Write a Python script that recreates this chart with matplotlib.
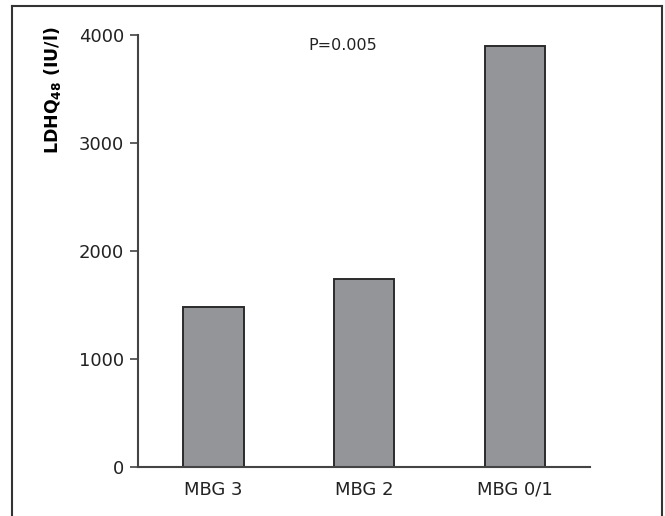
import matplotlib.pyplot as plt
from matplotlib.lines import Line2D

groups = ['MBG 3', 'MBG 2', 'MBG 0/1']
ldhq48 = [1480, 1740, 3895]
p_text = 'P=0.005'

barcol = '#939598'
edgecol = '#2b2b2b'
axcol = '#444444'

fig = plt.figure(figsize=(6.65, 5.16), dpi=100)
ax = fig.add_axes([0.2075, 0.095, 0.68, 0.837])

x = range(len(groups))
ax.bar(x, ldhq48, width=0.4, color=barcol, edgecolor=edgecol, linewidth=1.4, zorder=2)

ax.set_xlim(-0.5, 2.5)
ax.set_ylim(0, 4000)
ax.set_yticks([0, 1000, 2000, 3000, 4000])
ax.set_xticks(list(x))
ax.set_xticklabels(groups, fontsize=13)
ax.tick_params(axis='x', length=0, pad=10, colors='#222222')
ax.tick_params(axis='y', length=6, width=1.2, color=axcol, labelsize=13, pad=4, labelcolor='#222222')

for s in ['top', 'right']:
    ax.spines[s].set_visible(False)
for s in ['left', 'bottom']:
    ax.spines[s].set_color(axcol)
    ax.spines[s].set_linewidth(1.5)

ax.set_ylabel(r'LDHQ$_{\mathbf{48}}$ (IU/l)', fontsize=12.5, fontweight='bold')
ax.yaxis.set_label_coords(-0.165, 0.873)
ax.text(0.86, 3900, p_text, fontsize=11.5, ha='center', va='center', color='#222222')

# outer frame (open at the bottom)
fl, fr, ft = 12 / 665, 662 / 665, 1 - 6 / 516
for xs, ys in [([fl, fl], [0, ft]), ([fl, fr], [ft, ft]), ([fr, fr], [ft, 0])]:
    fig.add_artist(Line2D(xs, ys, transform=fig.transFigure, color='#333333', linewidth=1.5))

fig.savefig('out.png', dpi=100)
